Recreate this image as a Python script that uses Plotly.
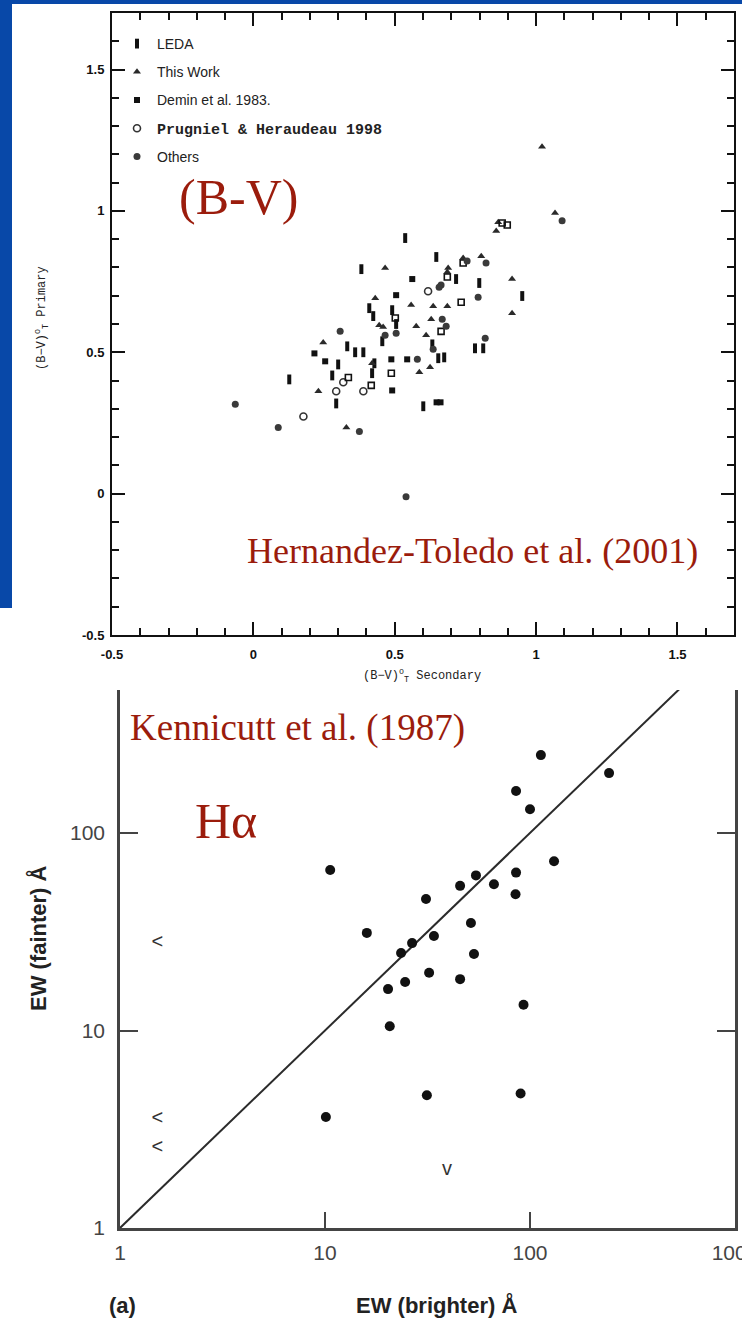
import plotly.graph_objects as go

W, H = 742, 1328
RED = "#9B1C0C"
BLUE = "#0848A8"

# ---------------- Top panel: (B-V) colours of pair members ----------------
leda_x = [0.537, 0.647, 0.382, 0.717, 0.799, 0.951, 0.410, 0.491, 0.424, 0.505, 0.456, 0.332, 0.360,
          0.389, 0.633, 0.784, 0.813, 0.300, 0.428, 0.654, 0.675, 0.279, 0.420, 0.127, 0.293, 0.601]
leda_y = [0.904, 0.837, 0.794, 0.759, 0.745, 0.699, 0.656, 0.649, 0.628, 0.600, 0.539, 0.521, 0.500,
          0.500, 0.528, 0.514, 0.514, 0.457, 0.461, 0.479, 0.482, 0.418, 0.426, 0.404, 0.319, 0.309]

this_work_x = [1.021, 1.067, 0.866, 0.859, 0.742, 0.806, 0.466, 0.689, 0.686, 0.915, 0.431, 0.558, 0.636,
               0.686, 0.915, 0.445, 0.459, 0.576, 0.629, 0.611, 0.247, 0.420, 0.625, 0.587, 0.230, 0.329]
this_work_y = [1.227, 0.993, 0.960, 0.929, 0.833, 0.840, 0.798, 0.798, 0.784, 0.759, 0.691, 0.667, 0.663,
               0.663, 0.638, 0.596, 0.589, 0.592, 0.617, 0.560, 0.535, 0.461, 0.447, 0.429, 0.362, 0.234]

demin_x = [0.562, 0.505, 0.216, 0.254, 0.488, 0.544, 0.491, 0.648, 0.662]
demin_y = [0.759, 0.702, 0.496, 0.468, 0.475, 0.475, 0.365, 0.323, 0.323]

prugniel_x = [0.177, 0.618, 0.389, 0.318, 0.293]
prugniel_y = [0.273, 0.716, 0.362, 0.394, 0.362]

open_sq_x = [0.880, 0.898, 0.742, 0.686, 0.735, 0.502, 0.664, 0.488, 0.336, 0.417]
open_sq_y = [0.957, 0.950, 0.816, 0.766, 0.677, 0.621, 0.574, 0.426, 0.411, 0.383]

others_x = [1.092, 0.756, 0.823, 0.664, 0.657, 0.795, 0.668, 0.682, 0.466, 0.505, 0.820, 0.636,
            0.580, 0.088, 0.375, -0.064, 0.540, 0.307]
others_y = [0.965, 0.823, 0.816, 0.738, 0.730, 0.695, 0.617, 0.592, 0.560, 0.567, 0.550, 0.511,
            0.475, 0.234, 0.220, 0.316, -0.011, 0.574]

bv_labels = {"−0.5": "-0.5"}

# ---------------- Bottom panel: H-alpha equivalent widths ----------------
ew_brighter = [113, 85.5, 100, 10.6, 131, 54.5, 45.6, 66.7, 85.5, 85, 31.1, 16.0, 51.5, 34.0,
               26.6, 23.5, 53.3, 32.2, 24.6, 45.6, 20.3, 20.7, 93, 10.1, 31.4, 90, 243]
ew_fainter = [248, 163, 132, 65, 72, 61, 54, 55, 63, 49, 46.3, 31.2, 35, 30.1,
              27.7, 24.7, 24.4, 19.6, 17.6, 18.2, 16.2, 10.5, 13.5, 3.65, 4.7, 4.8, 201]
upper_lim_x = [1.52, 1.52, 1.52]
upper_lim_y = [27.7, 3.56, 2.54]
lower_lim_x = [39.4]
lower_lim_y = [1.97]
one_to_one = [1, 1000]
ew_ticks = [1, 10, 100, 1000]
ew_ticktext = ["1", "10", "100", "1000"]


def px(p):
    return p / W


def py(p):
    return 1 - p / H


fig = go.Figure()

top = dict(xaxis="x", yaxis="y")
fig.add_trace(go.Scatter(x=leda_x, y=leda_y, mode="markers", name="LEDA", legendgroup="a",
                         marker=dict(symbol="line-ns", size=7, color="#111",
                                     line=dict(width=4, color="#111")), **top))
fig.add_trace(go.Scatter(x=this_work_x, y=this_work_y, mode="markers", name="This Work", legendgroup="b",
                         marker=dict(symbol="triangle-up", size=7, color="#2a2a2a"), **top))
fig.add_trace(go.Scatter(x=demin_x, y=demin_y, mode="markers", name="Demin et al. 1983.", legendgroup="c",
                         marker=dict(symbol="square", size=6, color="#111"), **top))
fig.add_trace(go.Scatter(x=prugniel_x, y=prugniel_y, mode="markers",
                         name='<span style="font-family:Liberation Mono;font-weight:bold;font-size:15px">Prugniel & Heraudeau 1998</span>',
                         legendgroup="d",
                         marker=dict(symbol="circle-open", size=7, color="#333",
                                     line=dict(width=1.6, color="#333")), **top))
fig.add_trace(go.Scatter(x=open_sq_x, y=open_sq_y, mode="markers", showlegend=False, legendgroup="d",
                         marker=dict(symbol="square-open", size=6, color="#111",
                                     line=dict(width=1.6, color="#111")), **top))
fig.add_trace(go.Scatter(x=others_x, y=others_y, mode="markers", name="Others", legendgroup="e",
                         marker=dict(symbol="circle", size=7, color="#3a3a3a"), **top))

bot = dict(xaxis="x2", yaxis="y2", showlegend=False)
fig.add_trace(go.Scatter(x=one_to_one, y=one_to_one, mode="lines",
                         line=dict(color="#2b2b2b", width=2), **bot))
fig.add_trace(go.Scatter(x=ew_brighter, y=ew_fainter, mode="markers",
                         marker=dict(symbol="circle", size=10, color="#111"), **bot))
fig.add_trace(go.Scatter(x=upper_lim_x, y=upper_lim_y, mode="text", text=["<"] * len(upper_lim_x),
                         textfont=dict(family="Liberation Sans", size=20, color="#333"), **bot))
fig.add_trace(go.Scatter(x=lower_lim_x, y=lower_lim_y, mode="text", text=["v"] * len(lower_lim_x),
                         textfont=dict(family="Liberation Sans", size=20, color="#333"), **bot))

top_axis = dict(
    range=[-0.5, 1.7], tickmode="linear", tick0=-0.5, dtick=0.5, labelalias=bv_labels,
    ticks="inside", ticklen=13, tickwidth=1.8, tickcolor="#111",
    showline=True, linecolor="#111", linewidth=2, mirror="ticks",
    showgrid=False, zeroline=False, automargin=False,
    minor=dict(tick0=-0.5, dtick=0.1, ticks="inside", ticklen=7,
               tickwidth=1.6, tickcolor="#111", showgrid=False),
    tickfont=dict(family="Liberation Sans", size=13, color="#111", weight="bold"),
)

bot_common = dict(type="log", tickmode="array", tickvals=ew_ticks, ticktext=ew_ticktext,
                  ticks="inside", tickwidth=2, tickcolor="#444", showline=True,
                  linecolor="#444", linewidth=2.5, showgrid=False, zeroline=False, automargin=False,
                  ticklabeloverflow="allow",
                  tickfont=dict(family="Liberation Sans", size=21, color="#444"))

fig.update_layout(
    width=W, height=H, margin=dict(l=0, r=0, t=0, b=0, autoexpand=False),
    paper_bgcolor="white", plot_bgcolor="white",
    xaxis=dict(domain=[px(112), px(734)], anchor="y", ticklabelstandoff=6, **top_axis),
    yaxis=dict(domain=[py(635), py(13)], anchor="x", ticklabelstandoff=3, **top_axis),
    xaxis2=dict(domain=[px(120), px(735)], anchor="y2", range=[0, 3], mirror=False,
                ticklen=16, ticklabelstandoff=4, **bot_common),
    yaxis2=dict(domain=[py(1228), py(690)], anchor="x2", range=[0, 2.724], mirror="ticks",
                ticklen=18, ticklabelstandoff=8, **bot_common),
    legend=dict(x=px(117), y=py(28), xanchor="left", yanchor="top", bgcolor="rgba(0,0,0,0)",
                font=dict(family="Liberation Sans", size=14, color="#222"),
                tracegroupgap=7, itemwidth=30),
    shapes=[
        dict(type="rect", xref="paper", yref="paper", x0=0, x1=px(12), y0=py(608), y1=1,
             fillcolor=BLUE, line=dict(width=0), layer="above"),
        dict(type="rect", xref="paper", yref="paper", x0=0, x1=1, y0=py(4), y1=1,
             fillcolor=BLUE, line=dict(width=0), layer="above"),
    ],
)

notes = [
    ("(B-V)", 238, 197, 0, dict(family="Liberation Serif", size=50, color=RED)),
    ("Hernandez-Toledo et al. (2001)", 473, 551, 0, dict(family="Liberation Serif", size=36, color=RED)),
    ("Kennicutt et al. (1987)", 297, 728, 0, dict(family="Liberation Serif", size=37, color=RED)),
    ("Hα", 226, 821, 0, dict(family="Liberation Serif", size=50, color=RED)),
    ("(B−V)<sup>o</sup><sub>T</sub> Secondary", 422, 676, 0,
     dict(family="Liberation Mono", size=12, color="#222")),
    ("(B−V)<sup>o</sup><sub>T</sub> Primary", 42, 318, -90,
     dict(family="Liberation Mono", size=12, color="#222")),
    ("<b>EW (brighter) Å</b>", 436, 1305, 0, dict(family="Liberation Sans", size=22, color="#222")),
    ("<b>(a)</b>", 122, 1305, 0, dict(family="Liberation Sans", size=22, color="#222")),
    ("<b>EW (fainter) Å</b>", 38, 938, -90, dict(family="Liberation Sans", size=22, color="#222")),
]
for text, x, y, ang, font in notes:
    fig.add_annotation(text=text, x=px(x), y=py(y), xref="paper", yref="paper", showarrow=False,
                       xanchor="center", yanchor="middle", textangle=ang, font=font)

fig.write_html("out.html")
